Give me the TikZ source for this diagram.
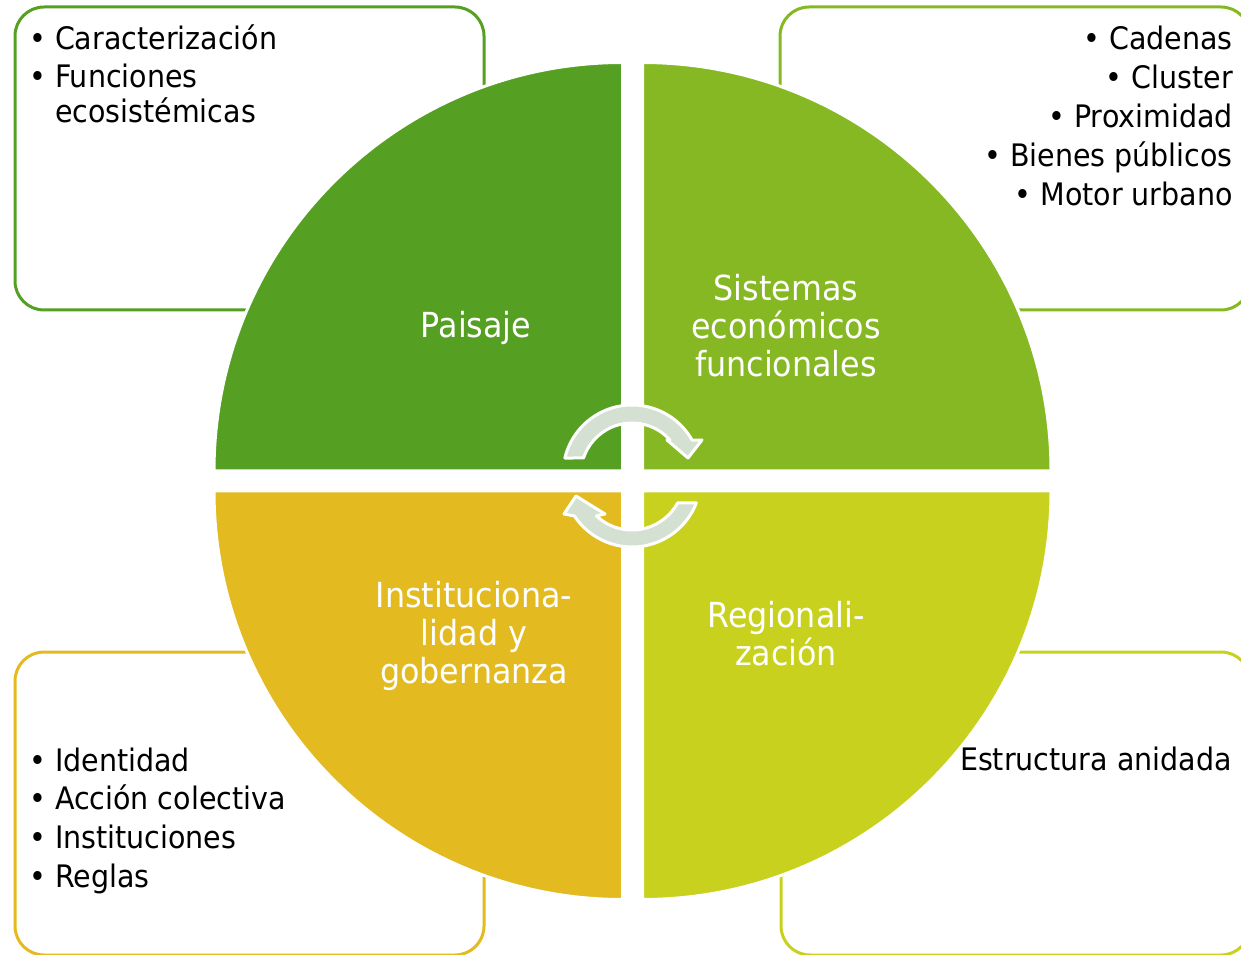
\documentclass[tikz,border=0pt]{standalone}
\usepackage{fontspec}
\setmainfont{DejaVu Sans}[FakeStretch=0.92]
\usepackage{tikz}
\usetikzlibrary{calc}

\definecolor{paisajegreen}{HTML}{55A023}
\definecolor{sistemasgreen}{HTML}{86B823}
\definecolor{regionlime}{HTML}{C8D21E}
\definecolor{institgold}{HTML}{E3BA20}
\definecolor{cyclegray}{HTML}{D4E1D2}

\newcommand{\bul}{•\ }
\newcommand{\firststrut}{\rule{0pt}{30pt}}

\begin{document}
\begin{tikzpicture}[x=1pt,y=1pt,
    quadlabel/.style={text=white,align=center,inner sep=0pt,
                      font=\fontsize{34.5}{38}\selectfont},
    listtext/.style={text=black,inner sep=0pt,
                     font=\fontsize{31}{34.5}\selectfont}]
  \useasboundingbox (0,0) rectangle (1241,954);

  % outer boxes
  \begin{scope}[line width=3pt,rounded corners=29pt]
    \draw[paisajegreen]  (15,644)  rectangle (484,947);
    \draw[sistemasgreen] (780,644) rectangle (1250,947);
    \draw[institgold]    (15,-1)   rectangle (484,302);
    \draw[regionlime]    (781,-1)  rectangle (1250,302);
  \end{scope}

  % four quarters of the disc
  \begin{scope}[draw=white,line width=3pt]
    \filldraw[fill=paisajegreen]  (622.5,483) -- ++(180:408.5)
      arc[start angle=180,end angle=90,radius=408.5] -- cycle;
    \filldraw[fill=sistemasgreen] (642.5,483) -- ++(90:408.5)
      arc[start angle=90,end angle=0,radius=408.5] -- cycle;
    \filldraw[fill=regionlime]    (642.5,463) -- ++(0:408.5)
      arc[start angle=0,end angle=-90,radius=408.5] -- cycle;
    \filldraw[fill=institgold]    (622.5,463) -- ++(-90:408.5)
      arc[start angle=-90,end angle=-180,radius=408.5] -- cycle;
  \end{scope}

  \node[quadlabel] (paisaje)  at (476,626) {Paisaje};
  \node[quadlabel] (sistemas) at (786,628) {Sistemas\\económicos\\funcionales};
  \node[quadlabel] (instit)   at (474,318) {Instituciona-\\lidad y\\gobernanza};
  \node[quadlabel] (region)   at (786,320) {Regionali-\\zación};

  % the two circular arrows in the middle
  \begin{scope}[fill=cyclegray,draw=white,line width=3pt,line join=round]
    \coordinate (topc) at (632,480);
    \coordinate (botc) at (632,476);
    \filldraw ($(topc)+(166.6:69)$) arc[start angle=166.6,end angle=29.5,radius=69]
      -- (702,514) -- (688,496) -- (667,514)
      -- ($(topc)+(41.8:51)$) arc[start angle=41.8,end angle=161.7,radius=51] -- cycle;
    \filldraw ($(botc)+(-21.2:69)$) arc[start angle=-21.2,end angle=-146.6,radius=69]
      -- (564,440) -- (576,458) -- (605,440)
      -- ($(botc)+(-133.1:52)$) arc[start angle=-133.1,end angle=-28.7,radius=52] -- cycle;
  \end{scope}

  % lists beside the disc
  \node[listtext,align=left,anchor=north west] (lstpaisaje) at (29,935)
    {\firststrut\bul Caracterización\\[4.3pt]
     \bul Funciones\\
     \hphantom{\bul}ecosistémicas};
  \node[listtext,align=right,anchor=north east] (lstsistemas) at (1233,935)
    {\firststrut\bul Cadenas\\[4.5pt]
     \bul Cluster\\[4.5pt]
     \bul Proximidad\\[4.5pt]
     \bul Bienes públicos\\[4.5pt]
     \bul Motor urbano};
  \node[listtext,align=left,anchor=north west] (lstinstit) at (29,213)
    {\firststrut\bul Identidad\\[4.2pt]
     \bul Acción colectiva\\[4.2pt]
     \bul Instituciones\\[4.2pt]
     \bul Reglas};
  \node[listtext,anchor=base east] (lstregion) at (1232,184) {Estructura anidada};
\end{tikzpicture}
\end{document}
